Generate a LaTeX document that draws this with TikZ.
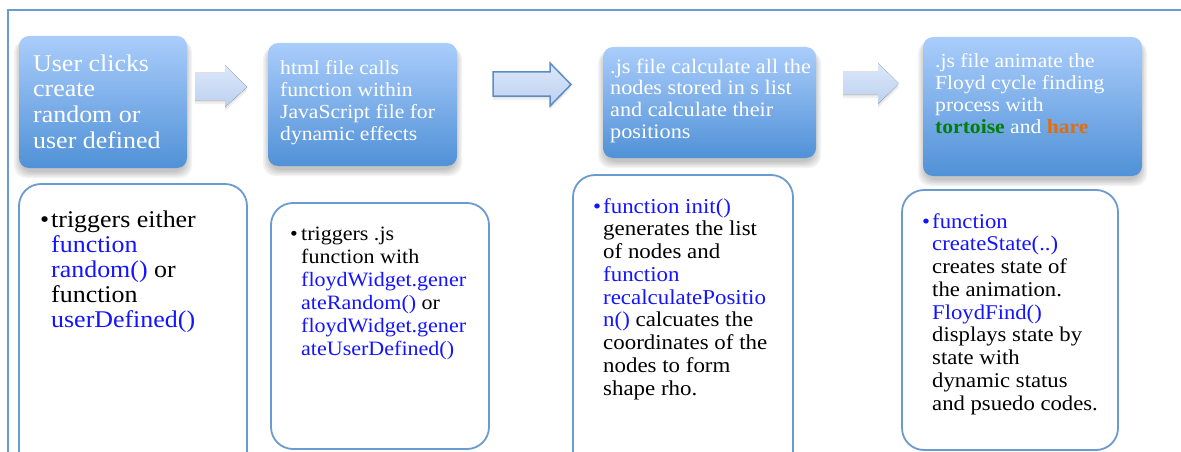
\documentclass[tikz,border=0pt]{standalone}
\usepackage{fontspec}
\setmainfont{Liberation Serif}[FakeStretch=1.08]
\definecolor{gtop}{RGB}{170,205,251}
\definecolor{gbot}{RGB}{80,145,215}
\definecolor{frameblue}{RGB}{106,155,208}
\definecolor{boxline}{RGB}{106,155,207}
\definecolor{fnblue}{RGB}{20,20,255}
\definecolor{tgreen}{RGB}{0,128,0}
\definecolor{horange}{RGB}{228,108,10}
\definecolor{arrtop}{RGB}{220,232,250}
\definecolor{arrbot}{RGB}{188,208,240}
\definecolor{arrline}{RGB}{92,140,199}
\newcommand\softshadow[4]{%
  \foreach \s in {0,1.5,3,4.5,6}{%
    \fill[black, opacity=0.05, rounded corners=12pt]
      ($(#1-\s+1, #2+4)$) rectangle ($(#3+\s-1, #4+4+\s)$);
  }}
\usetikzlibrary{calc}
\tikzset{
  bluebox/.style={rounded corners=10pt, top color=gtop, bottom color=gbot, draw=none, inner sep=0pt},
  whitebox/.style={rounded corners=22pt, draw=boxline, line width=1.8pt, fill=white, inner sep=0pt},
  txt/.style={anchor=north west, inner sep=0pt, align=left},
  bul/.style={anchor=base west, inner sep=0pt},
  fn/.style={text=fnblue},
  blockarrow/.style={top color=arrtop, bottom color=arrbot},
  arrshadow/.style={fill=black, opacity=0.06},
}
\begin{document}
\begin{tikzpicture}[x=1pt,y=-1pt]
\useasboundingbox (0,0) rectangle (1181,452);
\clip (0,0) rectangle (1181,452);
% frame
\draw[frameblue, line width=1.5pt] (8,470) -- (8,10) -- (1190,10);

% shadows
\softshadow{19}{36}{187}{168}
\softshadow{268}{43}{457}{166}
\softshadow{603}{47}{816}{158}
\softshadow{923}{37}{1142}{176}

% blue boxes
\node[bluebox, minimum width=168pt, minimum height=132pt] (b1) at (103,102) {};
\node[bluebox, minimum width=189pt, minimum height=123pt] (b2) at (362.5,104.5) {};
\node[bluebox, minimum width=213pt, minimum height=111pt] (b3) at (709.5,102.5) {};
\node[bluebox, minimum width=219pt, minimum height=139pt] (b4) at (1032.5,106.5) {};

\node[txt, text=white, font=\fontsize{24}{25.7}\selectfont] (t1) at (33,53)
  {\strut User clicks\\create\\random or\\user defined};
\node[txt, text=white, font=\fontsize{20}{22}\selectfont] (t2) at (280,58.6)
  {\strut html file calls\\function within\\JavaScript file for\\dynamic effects};
\node[txt, text=white, font=\fontsize{20.6}{21.7}\selectfont] (t3) at (610,57.8)
  {\strut .js file calculate all the\\nodes stored in s list\\and calculate their\\positions};
\node[txt, text=white, font=\fontsize{20}{22}\selectfont] (t4) at (935,51.6)
  {\strut .js file animate the\\Floyd cycle finding\\process with\\\textbf{\textcolor{tgreen}{tortoise}} and \textbf{\textcolor{horange}{hare}}};

% block arrows
\foreach \d in {2,4}{
  \fill[arrshadow] (195,73+\d) -- (225,73+\d) -- (225,65+\d) -- (247,87+\d) -- (225,107+\d) -- (225,100+\d) -- (195,100+\d) -- cycle;
  \fill[arrshadow] (843,72+\d) -- (878,72+\d) -- (878,63+\d) -- (899,83.5+\d) -- (878,104+\d) -- (878,94+\d) -- (843,94+\d) -- cycle;
  \fill[arrshadow] (493,72+\d) -- (550,72+\d) -- (550,63+\d) -- (571,84.5+\d) -- (550,106+\d) -- (550,96+\d) -- (493,96+\d) -- cycle;
}
\fill[blockarrow] (195,73) -- (225,73) -- (225,65) -- (247,87) -- (225,107) -- (225,100) -- (195,100) -- cycle;
\filldraw[blockarrow, draw=arrline, line width=1.5pt] (493,72) -- (550,72) -- (550,63) -- (571,84.5) -- (550,106) -- (550,96) -- (493,96) -- cycle;
\fill[blockarrow] (843,72) -- (878,72) -- (878,63) -- (899,83.5) -- (878,104) -- (878,94) -- (843,94) -- cycle;

% white boxes
\node[whitebox, minimum width=228pt, minimum height=290pt] (w1) at (133,329) {};
\node[whitebox, minimum width=218pt, minimum height=246pt] (w2) at (380,326) {};
\node[whitebox, minimum width=220pt, minimum height=300pt] (w3) at (683,325) {};
\node[whitebox, minimum width=216pt, minimum height=260pt] (w4) at (1010,320) {};

% bullets and texts
\node[bul, font=\fontsize{24}{25}\selectfont] (d1) at (40,227) {•};
\node[txt, font=\fontsize{24}{25}\selectfont] (l1) at (51,209.5)
  {\strut triggers either\\\textcolor{fnblue}{function}\\\textcolor{fnblue}{random()} or\\function\\\textcolor{fnblue}{userDefined()}};

\node[bul, font=\fontsize{20.4}{23}\selectfont] (d2) at (290,240) {•};
\node[txt, font=\fontsize{20.4}{23}\selectfont] (l2) at (301,223.9)
  {\strut triggers .js\\function with\\\textcolor{fnblue}{floydWidget.gener}\\\textcolor{fnblue}{ateRandom()} or\\\textcolor{fnblue}{floydWidget.gener}\\\textcolor{fnblue}{ateUserDefined()}};

\node[bul, fn, font=\fontsize{21.2}{22.75}\selectfont] (d3) at (593,213) {•};
\node[txt, font=\fontsize{21.2}{22.75}\selectfont] (l3) at (603,197.1)
  {\strut\textcolor{fnblue}{function init()}\\generates the list\\of nodes and\\\textcolor{fnblue}{function}\\\textcolor{fnblue}{recalculatePositio}\\\textcolor{fnblue}{n()} calcuates the\\coordinates of the\\nodes to form\\shape rho.};

\node[bul, fn, font=\fontsize{21}{22.75}\selectfont] (d4) at (922,228) {•};
\node[txt, font=\fontsize{21}{22.75}\selectfont] (l4) at (932,212.1)
  {\strut\textcolor{fnblue}{function}\\\textcolor{fnblue}{createState(..)}\\creates state of\\the animation.\\\textcolor{fnblue}{FloydFind()}\\displays state by\\state with\\dynamic status\\and psuedo codes.};
\end{tikzpicture}
\end{document}
